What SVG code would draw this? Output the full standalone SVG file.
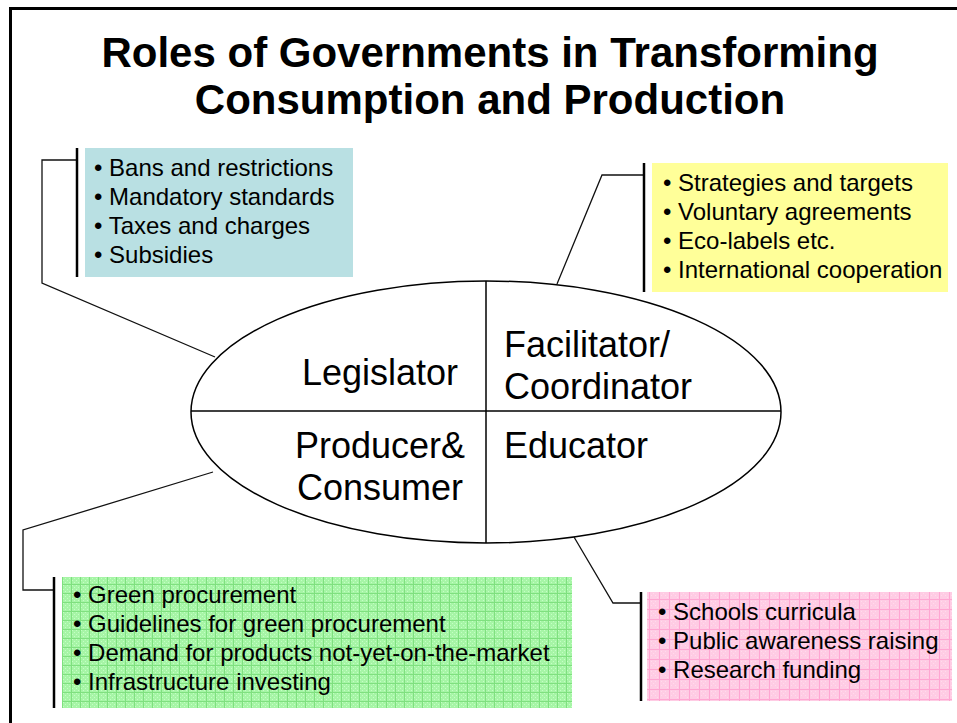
<svg xmlns="http://www.w3.org/2000/svg" width="957" height="723" viewBox="0 0 957 723">
  <defs>
    <style>
      .title { font-family: "Liberation Sans", Arial, sans-serif; font-weight: bold; font-size: 42px; fill: #000; text-anchor: middle; }
      .role { font-family: "Liberation Sans", Arial, sans-serif; font-size: 36px; fill: #000; }
      .item { font-family: "Liberation Sans", Arial, sans-serif; font-size: 24px; fill: #000; }
      .bar { stroke: #000; stroke-width: 2.5; fill: none; }
      .link { stroke: #111; stroke-width: 1.3; fill: none; }
      .edge { stroke: #000; stroke-width: 1.5; fill: none; }
    </style>
    <!-- fine grid fill for the procurement box -->
    <pattern id="greenGrid" width="9" height="9" patternUnits="userSpaceOnUse">
      <rect width="9" height="9" fill="#a6f5a6"/>
      <rect x="0" y="0" width="1" height="1" fill="#c4ffc4"/>
      <rect x="2" y="2" width="1" height="1" fill="#c4ffc4"/>
      <rect x="4" y="4" width="1" height="1" fill="#c4ffc4"/>
      <rect x="6" y="6" width="1" height="1" fill="#c4ffc4"/>
      <rect x="4" y="0" width="1" height="1" fill="#c4ffc4"/>
      <rect x="0" y="4" width="1" height="1" fill="#c4ffc4"/>
      <rect x="6" y="2" width="1" height="1" fill="#c4ffc4"/>
      <rect x="2" y="6" width="1" height="1" fill="#c4ffc4"/>
      <rect x="8" y="0" width="1" height="9" fill="#7fe07f"/>
      <rect x="0" y="8" width="9" height="1" fill="#7fe07f"/>
    </pattern>
    <!-- fine grid fill for the education box -->
    <pattern id="pinkGrid" width="10" height="10" patternUnits="userSpaceOnUse">
      <rect width="10" height="10" fill="#ffcce4"/>
      <rect x="1" y="1" width="1" height="1" fill="#ffdcec"/>
      <rect x="3" y="3" width="1" height="1" fill="#ffdcec"/>
      <rect x="5" y="5" width="1" height="1" fill="#ffdcec"/>
      <rect x="7" y="7" width="1" height="1" fill="#ffdcec"/>
      <rect x="5" y="1" width="1" height="1" fill="#ffdcec"/>
      <rect x="1" y="5" width="1" height="1" fill="#ffdcec"/>
      <rect x="9" y="0" width="1" height="10" fill="#ffa6d2"/>
      <rect x="0" y="9" width="10" height="1" fill="#ffa6d2"/>
    </pattern>
  </defs>

  <rect width="957" height="723" fill="#fff"/>

  <!-- slide frame -->
  <path d="M10.5,723 V8.5 H957" stroke="#000" stroke-width="3" fill="none"/>

  <!-- title -->
  <g id="title">
    <text class="title" x="490" y="67">Roles of Governments in Transforming</text>
    <text class="title" x="490" y="114">Consumption and Production</text>
  </g>

  <!-- central role ellipse -->
  <g id="roles">
    <ellipse class="edge" cx="486" cy="412" rx="295" ry="131"/>
    <line class="edge" x1="486" y1="281" x2="486" y2="543"/>
    <line class="edge" x1="191" y1="411" x2="781" y2="411"/>
    <text class="role" x="380" y="385" text-anchor="middle">Legislator</text>
    <text class="role" x="504" y="357">Facilitator/</text>
    <text class="role" x="504" y="399">Coordinator</text>
    <text class="role" x="380" y="458" text-anchor="middle">Producer&amp;</text>
    <text class="role" x="380" y="500" text-anchor="middle">Consumer</text>
    <text class="role" x="504" y="458">Educator</text>
  </g>

  <!-- callout connectors -->
  <g id="connectors">
    <polyline class="link" points="77,160 42,160 42,283 215,357"/>
    <polyline class="link" points="644,175 602,175 557,284"/>
    <polyline class="link" points="54,590 23,590 23,530 213,472"/>
    <polyline class="link" points="641,603 613,603 574,537"/>
  </g>

  <!-- legislator instruments -->
  <g id="legislator-box">
    <rect x="85" y="148" width="268" height="129" fill="#b9e0e3"/>
    <line class="bar" x1="77" y1="148" x2="77" y2="277"/>
    <text class="item" x="94" y="176">• Bans and restrictions</text>
    <text class="item" x="94" y="205">• Mandatory standards</text>
    <text class="item" x="94" y="234">• Taxes and charges</text>
    <text class="item" x="94" y="263">• Subsidies</text>
  </g>

  <!-- facilitator instruments -->
  <g id="facilitator-box">
    <rect x="652" y="163" width="296" height="129" fill="#ffff99"/>
    <line class="bar" x1="644" y1="163" x2="644" y2="292"/>
    <text class="item" x="663" y="191">• Strategies and targets</text>
    <text class="item" x="663" y="220">• Voluntary agreements</text>
    <text class="item" x="663" y="249">• Eco-labels etc.</text>
    <text class="item" x="663" y="278">• International cooperation</text>
  </g>

  <!-- producer and consumer instruments -->
  <g id="producer-box">
    <rect x="62" y="577" width="510" height="131" fill="url(#greenGrid)"/>
    <line class="bar" x1="54" y1="577" x2="54" y2="708"/>
    <text class="item" x="73" y="603">• Green procurement</text>
    <text class="item" x="73" y="632">• Guidelines for green procurement</text>
    <text class="item" x="73" y="661">• Demand for products not-yet-on-the-market</text>
    <text class="item" x="73" y="690">• Infrastructure investing</text>
  </g>

  <!-- educator instruments -->
  <g id="educator-box">
    <rect x="647" y="592" width="305" height="109" fill="url(#pinkGrid)"/>
    <line class="bar" x1="641" y1="592" x2="641" y2="701"/>
    <text class="item" x="658" y="620">• Schools curricula</text>
    <text class="item" x="658" y="649">• Public awareness raising</text>
    <text class="item" x="658" y="678">• Research funding</text>
  </g>
</svg>
